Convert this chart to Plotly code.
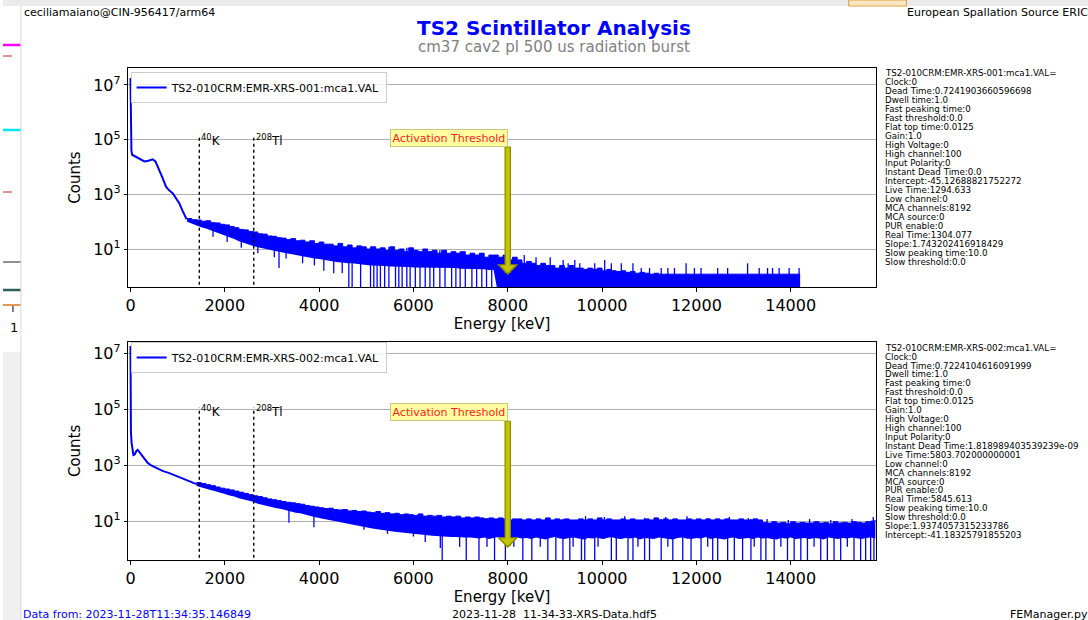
import plotly.graph_objects as go

W, H = 1088, 620
BLUE = "#0000ff"
FONT = "DejaVu Sans"

# ---------------- data ----------------
# panel 1 : TS2-010CRM:EMR-XRS-001  (smooth low-energy part)
E_LOW_1 = [0, 5, 12, 20, 35, 100, 200, 296, 380, 471, 530, 613, 680, 753, 820, 894, 960, 1035, 1100, 1141, 1190]
C_LOW_1 = [1.8e7, 3.0e6, 2.0e5, 4.0e4, 2.8e4, 2.4e4, 1.9e4, 1.6e4, 1.7e4, 1.9e4, 1.6e4, 7.8e3, 4.0e3, 1.9e3,
           1.4e3, 1.1e3, 750, 470, 260, 177, 123]
# noisy part: energy grid (keV) with upper / lower envelope of the counts
E_BAND_1 = list(range(1200, 14300, 100))
UP_1 = [130, 118, 115, 104, 108, 92, 90, 80, 76, 66,
        60, 52, 50, 44, 42, 36, 35, 30, 29, 26,
        25, 22, 24, 20, 21, 18, 20, 16, 18, 15,
        15, 13, 16, 12, 14, 11, 13, 12, 10, 12,
        10, 11, 9, 12, 9, 10, 8, 11, 9, 8,
        10, 8, 9, 7, 9, 7, 8, 7, 8, 6,
        7, 6, 7, 5, 6, 6, 5, 6, 4, 5,
        4, 3, 3.5, 3, 2.5, 3, 2.5, 2.5, 2, 2.5,
        2, 2.5, 2, 2, 1.8, 2, 1.8, 2, 1.6, 1.8,
        1.6, 1.5, 1.6, 1.4, 1.5, 1.3, 1.4, 1.3, 1.2, 1.3,
        1.2, 1.2, 1.2, 1.2, 1.2, 1.2, 1.2, 1.2, 1.2, 1.2,
        1.2, 1.2, 1.2, 1.2, 1.2, 1.2, 1.2, 1.2, 1.2, 1.2,
        1.2, 1.2, 1.2, 1.2, 1.2, 1.2, 1.2, 1.2, 1.2, 1.2, 1.2]
LO_1 = [100, 84, 74, 62, 56, 47, 42, 36, 32, 27,
        23, 19, 17, 14.5, 13, 11.5, 10.5, 9.5, 9, 8,
        7.5, 7, 6.5, 6, 5.5, 5.2, 5, 4.5, 4.3, 4,
        3.8, 3.5, 3.3, 3.2, 3, 3, 2.8, 2.7, 2.6, 2.5,
        2.5, 2.4, 2.4, 2.3, 2.3, 2.2, 2.2, 2.2, 2.1, 2.1,
        2.1, 2, 2, 2, 2, 2, 2, 2, 1.9, 1.9,
        1.9, 1.8, 1.8, 1.8, 1.7, 1.7, 0.2, 0.2, 0.2, 0.2,
        0.2, 0.2, 0.2, 0.2, 0.2, 0.2, 0.2, 0.2, 0.2, 0.2,
        0.2, 0.2, 0.2, 0.2, 0.2, 0.2, 0.2, 0.2, 0.2, 0.2,
        0.2, 0.2, 0.2, 0.2, 0.2, 0.2, 0.2, 0.2, 0.2, 0.2,
        0.2, 0.2, 0.2, 0.2, 0.2, 0.2, 0.2, 0.2, 0.2, 0.2,
        0.2, 0.2, 0.2, 0.2, 0.2, 0.2, 0.2, 0.2, 0.2, 0.2,
        0.2, 0.2, 0.2, 0.2, 0.2, 0.2, 0.2, 0.2, 0.2, 0.2, 0.2]
# single-channel downward dips (energy, lowest count; 0.2 = zero counts)
DIP_E_1 = [1750, 2050, 2350, 2700, 3050, 3150, 3300, 3650, 3900, 4100, 4310, 4490, 4630, 4700, 4880, 5090,
           5160, 5230, 5300, 5390, 5480, 5620, 5690, 5760, 5860, 5930, 6040, 6140, 6250, 6350, 6430, 6560,
           6670, 6810, 6900, 6990, 7100, 7240, 7340, 7450, 7550, 7660]
DIP_C_1 = [28, 18, 11, 7, 5, 2, 4.5, 3, 2.5, 1.6, 1.3, 1.3, 0.2, 0.2, 0.2, 0.2,
           0.2, 0.2, 0.2, 0.2, 0.2, 0.2, 0.2, 0.2, 0.2, 0.2, 0.2, 0.2, 0.2, 0.2, 0.2, 0.2,
           0.2, 0.2, 0.2, 0.2, 0.2, 0.2, 0.2, 0.2, 0.2, 0.2]
# single-channel upward spikes (energy, count)
SPIKE_E_1 = [8350, 8600, 8900, 9175, 9281, 9422, 9527, 9844, 10056, 10197, 10408, 10655, 10831, 11007, 11254,
             11395, 11535, 11782, 11958, 12099, 12452, 12663, 13086, 13332, 13509, 13615, 13755, 13967, 14178]
SPIKE_C_1 = [6, 5, 5, 4, 3, 4, 3, 3, 4, 3, 3, 3, 2, 2, 2,
             2, 2, 3, 2, 2, 2, 2, 3, 2, 2, 2, 2, 2, 2]

# panel 2 : TS2-010CRM:EMR-XRS-002
E_LOW_2 = [0, 4, 10, 25, 45, 63, 90, 125, 154, 190, 260, 366, 450, 542, 680, 824, 960, 1106, 1250, 1400]
C_LOW_2 = [1.8e7, 5.0e5, 1.5e4, 6.0e3, 3.5e3, 2.3e3, 2.4e3, 3.2e3, 3.5e3, 2.9e3, 2.0e3, 1.2e3, 950, 780,
           620, 520, 420, 320, 260, 210]
E_BAND_2 = list(range(1400, 15900, 100))
UP_2 = [240, 220, 200, 185, 165, 150, 140, 130, 118, 108,
        98, 88, 80, 75, 68, 62, 58, 54, 50, 47,
        45, 42, 40, 36, 34, 32, 30, 28, 29, 26,
        25, 26, 23, 24, 22, 23, 21, 20, 22, 19,
        20, 18, 19, 17, 18, 17, 16, 18, 15, 16,
        15, 16, 14, 15, 14, 15, 13, 14, 13, 14,
        13, 12, 13, 12, 13, 12, 11, 12, 12, 11,
        12, 11, 12, 11, 13, 11, 12, 11, 12, 11,
        11, 12, 11, 12, 11, 13, 11, 12, 11, 11,
        12, 11, 12, 11, 11, 12, 11, 13, 11, 12,
        11, 12, 11, 11, 12, 11, 12, 11, 12, 11,
        12, 11, 12, 11, 11, 12, 11, 11, 12, 11,
        9, 8.5, 9.5, 8.5, 9, 8, 9.5, 8.5, 9, 8.5,
        8.5, 9.5, 8.5, 9, 8, 9.5, 8.5, 9, 8.5, 9.5,
        9, 8.5, 9.5, 10, 11]
LO_2 = [180, 158, 146, 128, 116, 100, 92, 82, 76, 66,
        60, 53, 49, 42, 38, 34, 32, 29, 27, 24,
        22, 20, 19, 17, 15.5, 14, 13, 12, 11, 10,
        9.5, 8.5, 8, 7.5, 7, 6.5, 6, 5.5, 5.2, 5,
        4.7, 4.4, 4.2, 4, 3.8, 3.6, 3.5, 3.3, 3.2, 3.1,
        3, 2.9, 2.8, 2.8, 2.7, 2.7, 2.6, 2.6, 2.6, 2.5,
        2.4, 2.6, 2.3, 2.5, 2.7, 2.4, 2.5, 2.2, 2.6, 2.4,
        2.5, 2.3, 2.6, 2.4, 2.2, 2.5, 2.7, 2.4, 2.3, 2.5,
        2.6, 2.4, 2.2, 2.5, 2.4, 2.6, 2.3, 2.5, 2.7, 2.4,
        2.3, 2.5, 2.4, 2.6, 2.2, 2.5, 2.4, 2.3, 2.6, 2.5,
        2.4, 2.2, 2.5, 2.6, 2.4, 2.3, 2.5, 2.4, 2.7, 2.3,
        2.5, 2.4, 2.2, 2.5, 2.6, 2.3, 2.4, 2.5, 2.3, 2.6,
        2.4, 2.5, 2.3, 2.2, 2.5, 2.4, 2.6, 2.3, 2.4, 2.5,
        2.3, 2.5, 2.4, 2.2, 2.6, 2.4, 2.3, 2.5, 2.4, 2.6,
        2.4, 2.3, 2.5, 2.6, 2.4]
DIP_E_2 = [3360, 3890, 4950, 5450, 6000, 6250, 6570, 6610, 6980, 7120, 7390, 7560, 7720, 7950, 8130, 8320,
           8510, 8690, 8850, 9020, 9170, 9316, 9386, 9563, 9633, 9844, 9915, 10197, 10302, 10550, 10655,
           10761, 10902, 11007, 11254, 11395, 11500, 11711, 11887, 12099, 12240, 12346, 12452, 12663, 12804,
           12980, 13157, 13227, 13368, 13474, 13650, 13791, 13932, 14073, 14214, 14355, 14496, 14637, 14778,
           14919, 15060, 15201, 15342, 15483, 15589, 15695, 15765]
DIP_C_2 = [8.7, 6, 4.9, 3.5, 2.8, 1.8, 1.1, 0.2, 1.2, 0.2, 0.2, 1.2, 0.2, 0.2, 1.2, 0.2,
           0.2, 1.2, 0.2, 0.2, 0.2, 0.2, 1.2, 0.2, 0.2, 0.2, 1.2, 0.2, 0.2, 0.2, 0.2,
           1.2, 0.2, 0.2, 0.2, 1.2, 0.2, 0.2, 0.2, 0.2, 1.2, 0.2, 0.2, 0.2, 0.2,
           0.2, 0.2, 1.2, 0.2, 0.2, 0.2, 1.2, 0.2, 0.2, 0.2, 0.2, 1.2, 0.2, 0.2,
           0.2, 0.2, 1.2, 0.2, 0.2, 0.2, 0.2, 0.2]
SPIKE_E_2 = [9650, 10050, 10480, 10900, 11350, 11800, 12250, 12700, 13100, 13500, 13950, 14400, 14850,
             15300, 15750]
SPIKE_C_2 = [15, 14, 15, 13, 14, 15, 13, 14, 13, 12, 11, 12, 11, 12, 14]

PEAK_E = [1460, 2614]
PEAK_LABELS = ["<sup>40</sup>K", "<sup>208</sup>Tl"]
PEAK_TOP = [1.5e5, 1.15e5]
THRESHOLD_E = 8000
SERIES_NAMES = ["TS2-010CRM:EMR-XRS-001:mca1.VAL", "TS2-010CRM:EMR-XRS-002:mca1.VAL"]

META_1 = ["TS2-010CRM:EMR-XRS-001:mca1.VAL=", "Clock:0", "Dead Time:0.7241903660596698", "Dwell time:1.0",
          "Fast peaking time:0", "Fast threshold:0.0", "Flat top time:0.0125", "Gain:1.0", "High Voltage:0",
          "High channel:100", "Input Polarity:0", "Instant Dead Time:0.0", "Intercept:-45.12688821752272",
          "Live Time:1294.633", "Low channel:0", "MCA channels:8192", "MCA source:0", "PUR enable:0",
          "Real Time:1304.077", "Slope:1.743202416918429", "Slow peaking time:10.0", "Slow threshold:0.0"]
META_2 = ["TS2-010CRM:EMR-XRS-002:mca1.VAL=", "Clock:0", "Dead Time:0.7224104616091999", "Dwell time:1.0",
          "Fast peaking time:0", "Fast threshold:0.0", "Flat top time:0.0125", "Gain:1.0", "High Voltage:0",
          "High channel:100", "Input Polarity:0", "Instant Dead Time:1.818989403539239e-09",
          "Live Time:5803.702000000001", "Low channel:0", "MCA channels:8192", "MCA source:0", "PUR enable:0",
          "Real Time:5845.613", "Slow peaking time:10.0", "Slow threshold:0.0", "Slope:1.9374057315233786",
          "Intercept:-41.18325791855203"]

Y_TICKS = [1e1, 1e3, 1e5, 1e7]
Y_TICKTEXT = ["10<sup>1</sup>", "10<sup>3</sup>", "10<sup>5</sup>", "10<sup>7</sup>"]

# ---------------- layout helpers ----------------
def px_x(p):
    return p / W

def px_y(p):
    return 1 - p / H

X_DOM = [px_x(125.7), px_x(875)]
Y_DOM_1 = [px_y(287), px_y(68)]
Y_DOM_2 = [px_y(560), px_y(341.7)]


def nearest(grid, e):
    return min(range(len(grid)), key=lambda k: abs(grid[k] - e))


fig = go.Figure()

panels = [
    dict(xa="x", ya="y", el=E_LOW_1, cl=C_LOW_1, eb=E_BAND_1, up=UP_1, lo=LO_1, legend="legend",
         de=DIP_E_1, dc=DIP_C_1, se=SPIKE_E_1, sc=SPIKE_C_1),
    dict(xa="x2", ya="y2", el=E_LOW_2, cl=C_LOW_2, eb=E_BAND_2, up=UP_2, lo=LO_2, legend="legend2",
         de=DIP_E_2, dc=DIP_C_2, se=SPIKE_E_2, sc=SPIKE_C_2),
]
for i, p in enumerate(panels):
    fig.add_trace(go.Scatter(x=p["eb"], y=p["lo"], mode="lines", line=dict(width=0, color=BLUE),
                             showlegend=False, hoverinfo="skip", xaxis=p["xa"], yaxis=p["ya"]))
    fig.add_trace(go.Scatter(x=p["eb"], y=p["up"], mode="lines", line=dict(width=1, color=BLUE, shape="hv"),
                             fill="tonexty", fillcolor=BLUE, showlegend=False, xaxis=p["xa"], yaxis=p["ya"]))
    # single-channel dips and spikes as vertical strokes
    sx, sy = [], []
    for e, c in zip(p["de"], p["dc"]):
        k = nearest(p["eb"], e)
        sx += [e, e, None]
        sy += [c, p["up"][k], None]
    for e, c in zip(p["se"], p["sc"]):
        k = nearest(p["eb"], e)
        sx += [e, e, None]
        sy += [p["lo"][k], c, None]
    fig.add_trace(go.Scatter(x=sx, y=sy, mode="lines", line=dict(width=1.3, color=BLUE), connectgaps=False,
                             showlegend=False, hoverinfo="skip", xaxis=p["xa"], yaxis=p["ya"]))
    fig.add_trace(go.Scatter(x=p["el"], y=p["cl"], mode="lines", line=dict(width=2, color=BLUE),
                             name=SERIES_NAMES[i], legend=p["legend"], xaxis=p["xa"], yaxis=p["ya"]))
    for e in PEAK_E:
        fig.add_trace(go.Scatter(x=[e, e], y=[0.3, PEAK_TOP[i]], mode="lines",
                                 line=dict(width=1.4, color="black", dash="dot"),
                                 showlegend=False, hoverinfo="skip", xaxis=p["xa"], yaxis=p["ya"]))

tickfont = dict(family=FONT, size=16, color="black")
titlefont = dict(family=FONT, size=15, color="black")

def xaxis(anchor):
    return dict(domain=X_DOM, anchor=anchor, range=[-45, 15800], showline=True, mirror=True,
                linecolor="black", linewidth=1, ticks="outside", ticklen=3.5, tickwidth=0.8,
                tickcolor="black", tickfont=tickfont, tick0=0, dtick=2000, tickformat="d",
                showgrid=False, zeroline=False,
                title=dict(text="Energy [keV]", font=titlefont, standoff=4))

def yaxis(anchor, dom, rng):
    return dict(domain=dom, anchor=anchor, type="log", range=rng, showline=True, mirror=True,
                linecolor="black", linewidth=1, ticks="outside", ticklen=3.5, tickwidth=0.8,
                tickcolor="black", tickfont=tickfont, tickvals=Y_TICKS, ticktext=Y_TICKTEXT,
                showgrid=True, gridcolor="#b0b0b0", gridwidth=0.8, zeroline=False,
                title=dict(text="Counts", font=titlefont, standoff=8))

legend_common = dict(font=dict(family=FONT, size=11, color="black"), bgcolor="rgba(255,255,255,0.85)",
                     bordercolor="#cccccc", borderwidth=1, xanchor="left", yanchor="top", itemwidth=30)

fig.update_layout(
    width=W, height=H, autosize=False,
    margin=dict(l=0, r=0, t=0, b=0),
    paper_bgcolor="white", plot_bgcolor="white",
    font=dict(family=FONT, color="black"),
    xaxis=xaxis("y"), yaxis=yaxis("x", Y_DOM_1, [-0.39, 7.62]),
    xaxis2=xaxis("y2"), yaxis2=yaxis("x2", Y_DOM_2, [-0.39, 7.41]),
    legend=dict(x=px_x(128), y=px_y(72), **legend_common),
    legend2=dict(x=px_x(128), y=px_y(342), **legend_common),
    showlegend=True,
)

ann = []
# titles
ann.append(dict(text="<b>TS2 Scintillator Analysis</b>", x=px_x(553), y=px_y(28), xref="paper", yref="paper",
                showarrow=False, font=dict(family=FONT, size=20, color=BLUE), xanchor="center", yanchor="middle"))
ann.append(dict(text="cm37 cav2 pl 500 us radiation burst", x=px_x(553), y=px_y(47), xref="paper", yref="paper",
                showarrow=False, font=dict(family=FONT, size=15, color="#808080"), xanchor="center", yanchor="middle"))
# header / footer
small = dict(family=FONT, size=11, color="black")
ann.append(dict(text="ceciliamaiano@CIN-956417/arm64", x=px_x(19), y=px_y(12), xref="paper", yref="paper",
                showarrow=False, font=small, xanchor="left", yanchor="middle"))
ann.append(dict(text="European Spallation Source ERIC", x=px_x(1090), y=px_y(12), xref="paper", yref="paper",
                showarrow=False, font=small, xanchor="right", yanchor="middle"))
ann.append(dict(text="Data from: 2023-11-28T11:34:35.146849", x=px_x(18), y=px_y(614), xref="paper", yref="paper",
                showarrow=False, font=dict(family=FONT, size=11, color=BLUE), xanchor="left", yanchor="middle"))
ann.append(dict(text="2023-11-28\u00a0 11-34-33-XRS-Data.hdf5", x=px_x(553), y=px_y(614), xref="paper", yref="paper",
                showarrow=False, font=small, xanchor="center", yanchor="middle"))
ann.append(dict(text="FEManager.py", x=px_x(1090), y=px_y(614), xref="paper", yref="paper",
                showarrow=False, font=small, xanchor="right", yanchor="middle"))

# metadata text blocks
meta_font = dict(family=FONT, size=8.7, color="black")
for lines, y0, dy in [(META_1, 72.7, 9.03), (META_2, 347.7, 8.92)]:
    for k, t in enumerate(lines):
        ann.append(dict(text=t, x=px_x(882.5), y=px_y(y0 + k * dy), xref="paper", yref="paper",
                        showarrow=False, font=meta_font, xanchor="left", yanchor="middle"))

# peak labels, threshold arrows and boxes
for i, (xr, yr) in enumerate([("x", "y"), ("x2", "y2")]):
    for e, lab in zip(PEAK_E, PEAK_LABELS):
        ann.append(dict(text=lab, x=e, y=4.97 if i == 0 else 4.93, xref=xr, yref=yr, showarrow=False,
                        font=dict(family=FONT, size=12, color="black"), xanchor="left", yanchor="middle"))
    tail = 4.8 if i == 0 else 4.64
    head = 0.05 if i == 0 else 0.04
    ann.append(dict(text="", x=THRESHOLD_E, y=head, ax=THRESHOLD_E, ay=tail, xref=xr, yref=yr, axref=xr, ayref=yr,
                    showarrow=True, arrowhead=1, arrowsize=0.55, arrowwidth=6.5, arrowcolor="#8c8c00", standoff=0))
    ann.append(dict(text="", x=THRESHOLD_E, y=head + 0.08, ax=THRESHOLD_E, ay=tail - 0.03, xref=xr, yref=yr,
                    axref=xr, ayref=yr, showarrow=True, arrowhead=1, arrowsize=0.62, arrowwidth=4,
                    arrowcolor="#c4c400", standoff=0))
    ann.append(dict(text="Activation Threshold", x=THRESHOLD_E, y=5.06 if i == 0 else 4.9, xref=xr, yref=yr,
                    showarrow=False, xanchor="right", yanchor="middle", xshift=0,
                    font=dict(family=FONT, size=11, color="#ff2020"),
                    bgcolor="#ffffa0", bordercolor="#c8c878", borderwidth=1, borderpad=1.5))

fig.update_layout(annotations=ann)

# background window artefacts (screenshot edges)
shapes = []
shapes.append(dict(type="rect", xref="paper", yref="paper", x0=0, x1=1, y0=px_y(6), y1=1,
                   fillcolor="#ebebeb", line=dict(width=0), layer="below"))
shapes.append(dict(type="rect", xref="paper", yref="paper", x0=px_x(848), x1=px_x(906), y0=px_y(6), y1=1,
                   fillcolor="#f7e7c4", line=dict(width=1, color="#e0a040"), layer="below"))
shapes.append(dict(type="rect", xref="paper", yref="paper", x0=0, x1=px_x(18), y0=0, y1=px_y(352),
                   fillcolor="#f0f0f0", line=dict(width=0), layer="below"))
for yy, col, wd, dash in [(45, "#ff00ff", 2.5, "solid"), (56, "#c03030", 1, "dash"), (130, "#00e8f0", 2.5, "solid"),
                          (192, "#c03030", 1, "dash"), (262, "#909090", 2, "solid"), (290, "#2f5f5f", 2.5, "solid"),
                          (305, "#d2781e", 1.5, "solid")]:
    shapes.append(dict(type="line", xref="paper", yref="paper", x0=0, x1=px_x(18), y0=px_y(yy), y1=px_y(yy),
                       line=dict(color=col, width=wd, dash=dash), layer="below"))
shapes.append(dict(type="line", xref="paper", yref="paper", x0=px_x(10), x1=px_x(10), y0=px_y(306), y1=px_y(312),
                   line=dict(color="black", width=1), layer="below"))
shapes.append(dict(type="line", xref="paper", yref="paper", x0=px_x(18), x1=px_x(18), y0=0, y1=px_y(6),
                   line=dict(color="#d8d8d8", width=1), layer="below"))
fig.update_layout(shapes=shapes)
fig.add_annotation(text="1", x=px_x(11), y=px_y(327), xref="paper", yref="paper", showarrow=False,
                   font=dict(family=FONT, size=13, color="black"), xanchor="center", yanchor="middle")

fig.write_html("out.html")
